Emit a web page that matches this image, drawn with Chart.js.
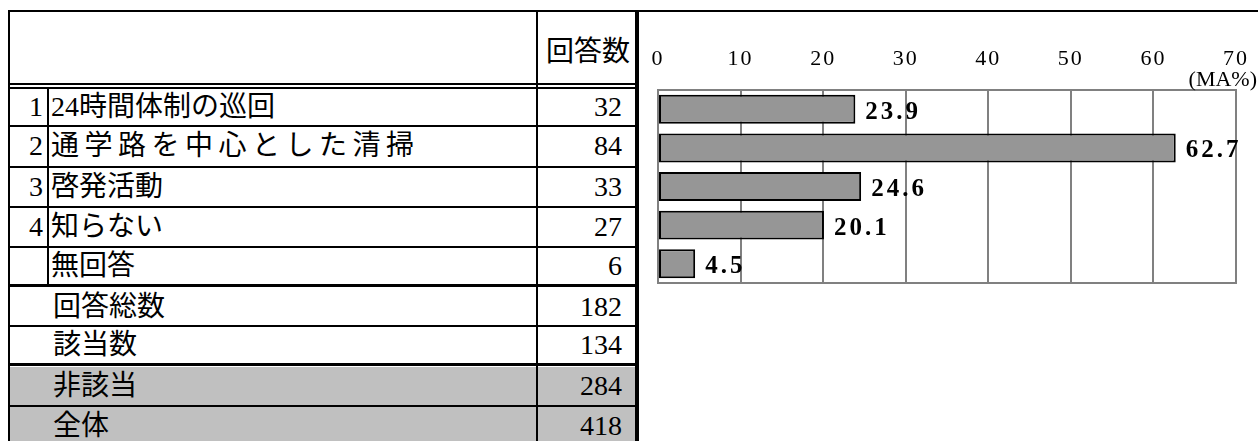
<!DOCTYPE html>
<html lang="ja">
<head>
<meta charset="utf-8">
<script src="https://cdn.jsdelivr.net/npm/chart.js@4"></script>
<style>
html,body{margin:0;padding:0;background:#fff;}
body{width:1258px;height:441px;overflow:hidden;position:relative;}
.ln{position:absolute;background:#000;z-index:3;}
.bg{position:absolute;background:#c0c0c0;z-index:1;}
.cell{position:absolute;display:flex;align-items:center;z-index:2;
  font-family:"Liberation Serif","Noto Sans CJK JP",serif;font-size:28px;font-weight:400;
  line-height:1;white-space:nowrap;color:#000;box-sizing:border-box;}
.num{font-family:"Liberation Serif",serif;}
#chartBox{position:absolute;left:640px;top:12px;width:618px;height:290px;z-index:2;}
</style>
</head>
<body>
<div id="chartBox"><canvas id="c" width="618" height="290"></canvas></div>
<script>
// ---- data ----
const headerLabel = '回答数';
const itemNumbers = ['1', '2', '3', '4', ''];
const itemLabels = ['24時間体制の巡回', '通学路を中心とした清掃', '啓発活動', '知らない', '無回答'];
const itemCounts = [32, 84, 33, 27, 6];
const summaryLabels = ['回答総数', '該当数', '非該当', '全体'];
const summaryCounts = [182, 134, 284, 418];
const categories = itemLabels;
const percentValues = [23.9, 62.7, 24.6, 20.1, 4.5];
const axisMin = 0, axisMax = 70, axisStep = 10;
const unitLabel = '(MA%)';

// ---- table layout ----
const rowTops = [89, 126, 167, 207, 247, 288, 326, 367, 406];
const rowBottoms = [125, 166, 206, 246, 285, 325, 364, 405, 446];
const labelSpacing = [0, 5.5, 0, 0, 0, 0, 0, 0, 0];
const body = document.body;
function el(cls, l, t, w, h, txt, extra) {
  const d = document.createElement('div');
  d.className = cls;
  d.style.left = l + 'px'; d.style.top = t + 'px';
  d.style.width = w + 'px'; d.style.height = h + 'px';
  if (txt !== undefined) d.textContent = txt;
  if (extra) Object.assign(d.style, extra);
  body.appendChild(d);
  return d;
}
// gray background rows
el('bg', 10, rowTops[7], 625, 446 - rowTops[7]);
// header
el('cell', 538, 12, 97, 71, headerLabel, {justifyContent: 'center', paddingLeft: '3px', paddingTop: '8px'});
// item rows
itemLabels.forEach((lab, i) => {
  const t = rowTops[i], h = rowBottoms[i] - rowTops[i];
  el('cell num', 10, t, 37, h, itemNumbers[i], {justifyContent: 'flex-end', paddingRight: '4px'});
  el('cell', 49, t, 487, h, lab, {justifyContent: 'flex-start', paddingLeft: '2px', letterSpacing: labelSpacing[i] + 'px'});
  el('cell num', 538, t, 97, h, String(itemCounts[i]), {justifyContent: 'flex-end', paddingRight: '13px'});
});
summaryLabels.forEach((lab, j) => {
  const i = j + itemLabels.length;
  const t = rowTops[i], h = rowBottoms[i] - rowTops[i];
  el('cell', 10, t, 526, h, lab, {justifyContent: 'flex-start', paddingLeft: '43px', letterSpacing: labelSpacing[i] + 'px'});
  el('cell num', 538, t, 97, h, String(summaryCounts[j]), {justifyContent: 'flex-end', paddingRight: '13px'});
});
// lines
el('ln', 8, 10, 1250, 2);          // top border
el('ln', 8, 10, 2, 440);           // left border
el('ln', 536, 12, 2, 440);         // label/count separator
el('ln', 635, 12, 4, 440);         // right border
el('ln', 10, 83, 625, 2);          // double line under header
el('ln', 10, 87, 625, 2);
el('ln', 47, 89, 2, 196);          // number column
[125, 166, 206, 246, 325, 405].forEach(y => el('ln', 10, y, 625, 2));
[284, 363].forEach(y => el('ln', 10, y, 625, 3));

// ---- chart ----
const labelPlugin = {
  id: 'valueLabels',
  beforeDraw(chart) { chart.ctx.letterSpacing = '2px'; },
  afterDatasetsDraw(chart) {
    const ctx = chart.ctx;
    const meta = chart.getDatasetMeta(0);
    ctx.save();
    ctx.letterSpacing = '3px';
    ctx.font = 'bold 25px "Liberation Serif"';
    ctx.fillStyle = '#000';
    ctx.textAlign = 'left';
    ctx.textBaseline = 'middle';
    meta.data.forEach((bar, i) => {
      ctx.fillText(percentValues[i].toFixed(1), bar.x + 10, bar.y + 3);
    });
    ctx.restore();
  },
  afterDraw(chart) {
    const ctx = chart.ctx;
    ctx.save();
    ctx.letterSpacing = '0px';
    ctx.font = '22px "Liberation Serif"';
    ctx.fillStyle = '#000';
    ctx.textAlign = 'right';
    ctx.textBaseline = 'middle';
    ctx.fillText(unitLabel, chart.width - 1, chart.chartArea.top - 10);
    ctx.restore();
    ctx.letterSpacing = '0px';
  }
};

new Chart(document.getElementById('c'), {
  type: 'bar',
  data: {
    labels: categories,
    datasets: [{
      data: percentValues,
      backgroundColor: '#969696',
      borderColor: '#000',
      borderWidth: 2,
      borderSkipped: false,
      barPercentage: 0.75,
      categoryPercentage: 1
    }]
  },
  options: {
    indexAxis: 'y',
    responsive: false,
    animation: false,
    devicePixelRatio: 1,
    layout: {padding: {left: 18, right: 22, top: 0, bottom: 19}},
    plugins: {legend: {display: false}, tooltip: {enabled: false}},
    scales: {
      x: {
        type: 'linear', position: 'top', min: axisMin, max: axisMax,
        ticks: {stepSize: axisStep, color: '#000', padding: 0,
                font: {family: 'Liberation Serif', size: 22, lineHeight: '62px'}},
        grid: {color: '#808080', lineWidth: 2, drawTicks: false},
        border: {display: true, color: '#808080', width: 2},
        afterFit(s) { s.height = 78; }
      },
      x2: {
        type: 'linear', position: 'bottom', min: axisMin, max: axisMax, display: true,
        ticks: {display: false},
        grid: {display: false, drawTicks: false},
        border: {display: true, color: '#808080', width: 2}
      },
      y: {type: 'category', display: false}
    }
  },
  plugins: [labelPlugin]
});
</script>
</body>
</html>
